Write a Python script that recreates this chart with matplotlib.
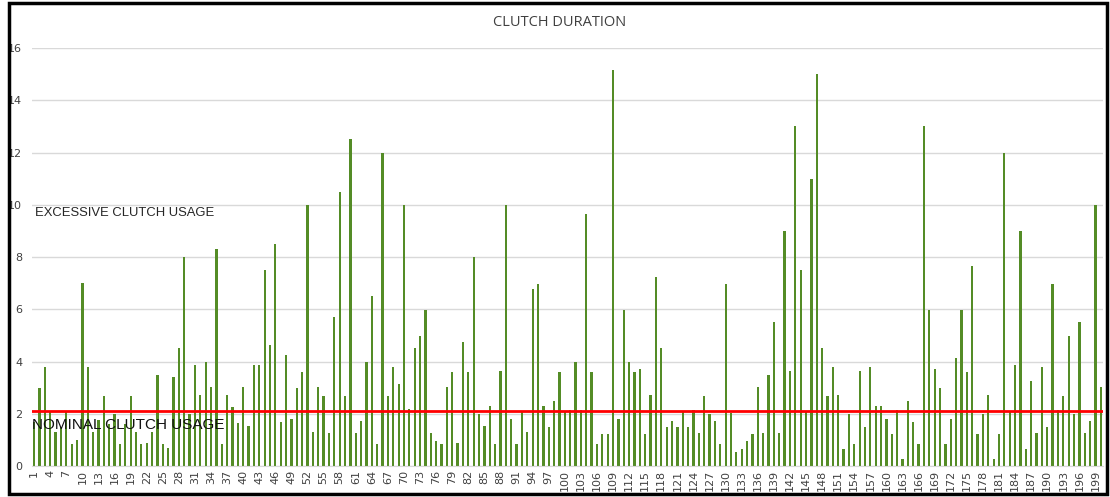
import matplotlib
matplotlib.use("Agg")
import matplotlib.pyplot as plt
from matplotlib.patches import Rectangle

# clutch duration per event (1..200)
durations = [
    1.7, 3.0, 3.8, 2.05, 1.3, 1.5, 2.05, 0.85, 1.0, 7.0,
    3.8, 1.3, 1.75, 2.67, 1.6, 2.0, 0.85, 1.6, 2.67, 1.3,
    0.83, 0.88, 1.3, 3.47, 0.85, 0.7, 3.4, 4.5, 8.0, 2.0,
    3.85, 2.7, 4.0, 3.04, 8.3, 0.85, 2.7, 2.27, 1.65, 3.04,
    1.52, 3.85, 3.85, 7.5, 4.65, 8.5, 1.67, 4.25, 1.8, 3.0,
    3.6, 10.0, 1.3, 3.04, 2.67, 1.28, 5.72, 10.5, 2.67, 12.5,
    1.28, 1.74, 3.97, 6.49, 0.84, 11.98, 2.67, 3.8, 3.13, 10.0,
    2.2, 4.5, 4.98, 5.98, 1.25, 0.97, 0.83, 3.04, 3.6, 0.87,
    4.74, 3.6, 8.0, 2.0, 1.52, 2.29, 0.86, 3.64, 10.0, 1.79,
    0.83, 2.07, 1.3, 6.76, 6.97, 2.29, 1.48, 2.49, 3.6, 2.07,
    2.13, 3.97, 2.16, 9.65, 3.6, 0.86, 1.24, 1.21, 15.16, 1.79,
    5.98, 3.97, 3.6, 3.73, 1.24, 2.72, 7.23, 4.5, 1.51, 1.71,
    1.51, 2.07, 1.51, 2.16, 1.25, 2.67, 2.0, 1.71, 0.83, 6.97,
    2.03, 0.54, 0.66, 0.97, 1.24, 3.04, 1.28, 3.47, 5.5, 1.28,
    9.0, 3.64, 13.0, 7.5, 2.07, 11.0, 15.0, 4.5, 2.67, 3.8,
    2.7, 0.66, 2.0, 0.83, 3.64, 1.51, 3.8, 2.29, 2.29, 1.79,
    1.24, 2.16, 0.26, 2.49, 1.67, 0.86, 13.0, 5.98, 3.73, 3.0,
    0.83, 1.79, 4.13, 5.98, 3.6, 7.66, 1.24, 2.0, 2.73, 0.26,
    1.21, 11.98, 2.07, 3.85, 9.0, 0.66, 3.24, 1.28, 3.8, 1.51,
    6.97, 2.16, 2.67, 4.98, 2.0, 5.5, 1.28, 1.71, 10.0, 3.04,
]
events = list(range(1, len(durations) + 1))
nominal_limit = 2.1
y_ticks = [0, 2, 4, 6, 8, 10, 12, 14, 16]

fig = plt.figure(figsize=(11.1, 4.97), dpi=100)
ax = fig.add_axes([32 / 1110, 31 / 497, 1071 / 1110, 418 / 497])

ax.bar(events, durations, width=0.42, color="#548C26", zorder=2)
ax.axhline(nominal_limit, color="#FF0000", linewidth=2, zorder=3)

ax.set_xlim(0.6, 200.4)
ax.set_ylim(0, 16)
ax.set_yticks(y_ticks)
ax.set_xticks(events[::3])
ax.set_xticklabels([str(e) for e in events[::3]], rotation=90)
ax.tick_params(axis="both", length=0, labelsize=8, colors="#404040")
ax.tick_params(axis="y", pad=7)
ax.tick_params(axis="x", pad=3)
ax.grid(axis="y", color="#D9D9D9", linewidth=1, zorder=0)
for s in ["top", "right", "left"]:
    ax.spines[s].set_visible(False)
ax.spines["bottom"].set_color("#D9D9D9")

ax.text(1.16, 9.68, "EXCESSIVE CLUTCH USAGE", fontsize=9.4, family="Liberation Sans",
        color="#262626", va="center", ha="left", zorder=4)
ax.text(0.65, 1.56, "NOMINAL CLUTCH USAGE", fontsize=11, family="Liberation Sans",
        color="#111111", va="center", ha="left", zorder=4)

fig.text(560 / 1110, 1 - 22 / 497, "CLUTCH DURATION", fontsize=10.5,
         family="Open Sans", color="#404040", ha="center", va="center")

# outer chart frame
fig.patches.append(Rectangle((9 / 1110, 3 / 497), 1098 / 1110, 491 / 497,
                             transform=fig.transFigure, fill=False,
                             edgecolor="black", linewidth=2.5))

fig.savefig("out.png", dpi=100)
